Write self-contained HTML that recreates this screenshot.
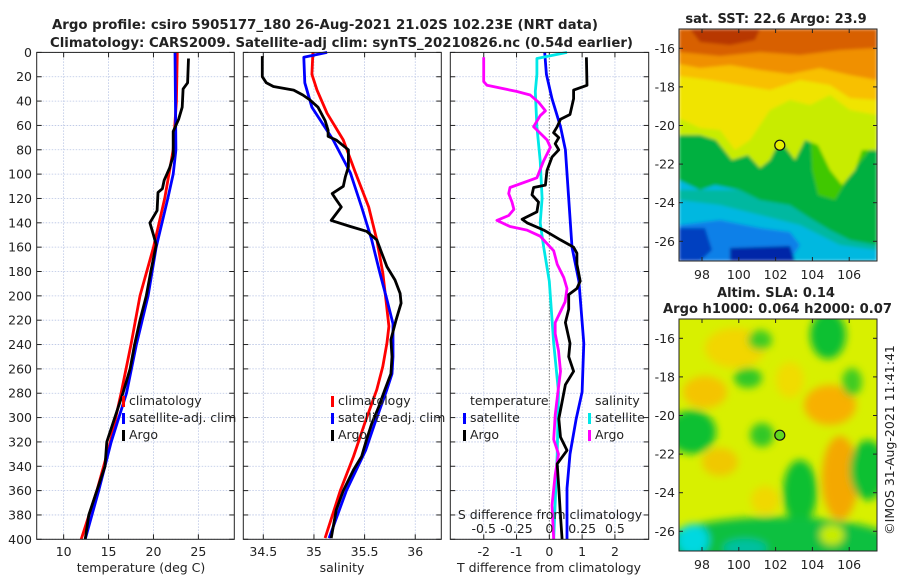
<!DOCTYPE html>
<html><head><meta charset="utf-8"><style>
html,body{margin:0;padding:0;background:#fff;}
svg{display:block;font-family:"DejaVu Sans","Liberation Sans",sans-serif;}
text{fill:#222;}
</style></head><body>
<svg id="fig" width="900" height="580" viewBox="0 0 900 580" xmlns="http://www.w3.org/2000/svg">
<defs>
<filter id="blur6" x="-10%" y="-10%" width="120%" height="120%"><feGaussianBlur stdDeviation="4"/></filter>
<filter id="blur2"><feGaussianBlur stdDeviation="1.5"/></filter>
<clipPath id="clipTop"><rect x="679" y="29" width="198" height="232"/></clipPath>
<clipPath id="clipBot"><rect x="679" y="319" width="198" height="232"/></clipPath>
</defs>
<text x="52" y="29" font-size="13" font-weight="bold" textLength="546" lengthAdjust="spacingAndGlyphs">Argo profile: csiro 5905177_180 26-Aug-2021 21.02S 102.23E (NRT data)</text>
<text x="50" y="47" font-size="13" font-weight="bold" textLength="583" lengthAdjust="spacingAndGlyphs">Climatology: CARS2009. Satellite-adj clim: synTS_20210826.nc (0.54d earlier)</text>
<g id="charts"></g>

<!-- SST map -->
<g>
<text x="776" y="23" font-size="13" font-weight="bold" text-anchor="middle">sat. SST: 22.6 Argo: 23.9</text>
<g clip-path="url(#clipTop)" filter="url(#blur2)">
<rect x="679" y="29" width="198" height="232" fill="#00b8e0"/>
<polygon fill="#00b8a0" points="679,190 877,190 877,250 840,245 800,225 760,215 720,205 679,200"/>
<polygon fill="#00b040" points="679,120 877,120 877,245 850,240 830,230 810,218 790,205 760,200 740,190 715,185 700,190 679,180"/>
<polygon fill="#40c800" points="810,130 860,125 870,150 850,175 835,200 818,195 812,170"/>
<polygon fill="#c8ec00" points="679,60 877,60 877,150 862,150 855,170 842,185 830,170 818,145 805,140 795,160 780,140 770,160 760,168 748,155 732,160 716,140 700,135 679,135"/>
<polygon fill="#f0e400" points="679,60 877,60 877,115 850,110 830,95 810,105 790,100 770,110 750,140 735,150 720,130 700,128 679,118"/>
<polygon fill="#f8c000" points="679,29 877,29 877,100 850,98 830,85 800,80 770,90 740,85 710,80 679,76"/>
<polygon fill="#f09000" points="679,29 877,29 877,80 850,75 820,68 790,74 760,70 730,65 700,68 679,64"/>
<polygon fill="#d86000" points="679,29 877,29 877,48 840,50 800,55 760,52 720,56 679,52"/>
<polygon fill="#b83800" points="690,29 760,29 755,40 730,45 700,42"/>
<polygon fill="#1080e8" points="679,225 720,220 760,228 790,232 800,245 790,261 679,261"/>
<polygon fill="#0040c0" points="679,228 705,228 712,250 700,261 679,261"/>
<polygon fill="#0028a8" points="730,248 790,246 795,261 730,261"/>
</g>
<rect x="679" y="29" width="198" height="232" fill="none" stroke="#222" stroke-width="1"/>
<circle cx="779.8" cy="145.2" r="5" fill="#e6f000" stroke="#111" stroke-width="1.2"/>
</g>

<!-- SLA map -->
<g>
<text x="776" y="297" font-size="13" font-weight="bold" text-anchor="middle">Altim. SLA: 0.14</text>
<text x="663" y="313" font-size="13" font-weight="bold" textLength="229" lengthAdjust="spacingAndGlyphs">Argo h1000: 0.064 h2000: 0.07</text>
<g clip-path="url(#clipBot)">
<rect x="679" y="319" width="198" height="232" fill="#d8f000"/>
<g filter="url(#blur6)">
<ellipse cx="735" cy="348" rx="30" ry="20" fill="#f2d600"/>
<ellipse cx="705" cy="392" rx="22" ry="16" fill="#f4c400"/>
<ellipse cx="830" cy="405" rx="26" ry="20" fill="#f8b000"/>
<ellipse cx="840" cy="478" rx="18" ry="42" fill="#f4a800"/>
<ellipse cx="720" cy="462" rx="18" ry="14" fill="#f0c800"/>
<ellipse cx="765" cy="500" rx="14" ry="14" fill="#f0d800"/>
<ellipse cx="790" cy="380" rx="14" ry="18" fill="#f0dc00"/>
<ellipse cx="828" cy="335" rx="18" ry="24" fill="#10c030"/>
<ellipse cx="748" cy="378" rx="14" ry="10" fill="#30c828"/>
<ellipse cx="760" cy="340" rx="12" ry="10" fill="#40cc20"/>
<ellipse cx="692" cy="432" rx="24" ry="22" fill="#10c030"/>
<ellipse cx="762" cy="435" rx="12" ry="12" fill="#30c828"/>
<ellipse cx="800" cy="492" rx="17" ry="32" fill="#10c030"/>
<ellipse cx="868" cy="470" rx="18" ry="30" fill="#10c030"/>
<ellipse cx="852" cy="382" rx="10" ry="14" fill="#40cc20"/>
<ellipse cx="778" cy="545" rx="120" ry="28" fill="#10c040"/>
<ellipse cx="693" cy="540" rx="16" ry="16" fill="#00d8e0"/>
<ellipse cx="745" cy="548" rx="22" ry="9" fill="#00c0a0"/>
<ellipse cx="832" cy="535" rx="12" ry="10" fill="#c8ec00"/>
</g>
</g>
<rect x="679" y="319" width="198" height="232" fill="none" stroke="#222" stroke-width="1"/>
<circle cx="779.8" cy="435.2" r="5" fill="#60d820" stroke="#111" stroke-width="1.2"/>
</g>
<text transform="translate(894,440) rotate(-90)" font-size="12.5" text-anchor="middle">©IMOS 31-Aug-2021 11:41:41</text>
<g id="mapaxes"></g>
</svg>
<script>
// ---- data ----
const depthTicks=[0,20,40,60,80,100,120,140,160,180,200,220,240,260,280,300,320,340,360,380,400];
// Panel 1: temperature
const tClimDepth=[0,40,80,120,160,200,240,280,320,360,400];
const tClimVal=[22.65,22.55,22.2,21.25,20.0,18.5,17.5,16.4,15.2,13.7,11.96];
const tSatDepth=[0,80,100,120,160,200,240,280,320,360,400];
const tSatVal=[22.4,22.5,22.2,21.6,20.3,19.4,18.1,17.0,15.3,13.9,12.4];
const tArgoDepth=[5,25,30,45,55,65,85,95,105,112,115,130,140,150,158,180,200,220,240,260,280,300,320,340,360,380,400];
const tArgoVal=[23.9,23.8,23.3,23.2,22.8,22.2,22.2,21.8,21.2,21.0,20.5,20.4,19.6,20.0,20.3,19.7,19.2,18.5,17.9,17.4,16.6,15.7,14.8,14.6,13.7,12.8,12.4];
const tTicks=[10,15,20,25];
// Panel 2: salinity
const sClimDepth=[0,18,31,50,72,99,127,154,181,203,225,239,258,277,305,332,360,399];
const sClimVal=[34.99,34.98,35.03,35.13,35.29,35.41,35.54,35.62,35.68,35.71,35.74,35.72,35.68,35.62,35.50,35.39,35.26,35.11];
const sSatDepth=[0,4,25,45,72,99,127,154,181,203,223,250,264,277,305,327,360,399];
const sSatVal=[35.13,34.90,34.91,34.98,35.19,35.36,35.47,35.57,35.65,35.72,35.78,35.78,35.77,35.72,35.60,35.51,35.32,35.15];
const sArgoDepth=[3,20,25,28,31,35,39,45,56,64,69,72,80,94,102,110,116,121,127,138,143,147,154,165,176,187,198,206,220,236,250,264,277,291,305,318,332,343,360,376,399];
const sArgoVal=[34.49,34.49,34.53,34.60,34.80,34.89,34.96,35.04,35.11,35.14,35.14,35.22,35.34,35.34,35.31,35.29,35.18,35.22,35.27,35.17,35.36,35.52,35.62,35.67,35.72,35.80,35.85,35.86,35.81,35.76,35.77,35.76,35.70,35.64,35.57,35.52,35.47,35.39,35.29,35.22,35.17];
const sTicks=[34.5,35,35.5,36];
// Panel 3: differences from climatology
const dTSatDepth=[0,18,38,61,80,120,160,188,239,279,301,330,358,400];
const dTSatVal=[-0.14,-0.09,0.08,0.34,0.49,0.59,0.69,0.90,1.05,1.00,0.82,0.63,0.54,0.54];
const dTArgoDepth=[4,27,31,38,51,55,61,66,70,75,80,86,97,109,111,117,123,131,137,140,146,154,160,165,174,188,194,199,211,222,239,250,262,273,287,301,316,327,338,358,381,400];
const dTArgoVal=[1.13,1.15,0.74,0.74,0.63,0.34,0.24,0.13,0.29,0.18,0.29,0.08,-0.07,-0.12,-0.48,-0.53,-0.33,-0.38,-0.83,-0.68,-0.17,0.34,0.74,0.84,0.84,0.94,0.84,0.59,0.59,0.49,0.63,0.59,0.74,0.49,0.39,0.29,0.34,0.54,0.24,0.29,0.34,0.39];
const dSSatDepth=[0,5,18,32,61,89,120,140,160,188,239,279,330,400];
const dSSatVal=[0.135,-0.095,-0.095,-0.107,-0.095,-0.07,-0.055,-0.07,-0.043,0.0,0.033,0.07,0.06,0.033];
const dSArgoDepth=[4,24,27,32,35,41,48,52,61,72,78,89,103,111,116,123,129,134,138,143,146,151,163,174,185,194,205,222,231,245,262,284,298,318,330,347,372,400];
const dSArgoVal=[-0.50,-0.50,-0.475,-0.25,-0.146,-0.082,-0.03,-0.07,-0.12,-0.017,0.008,-0.043,-0.095,-0.30,-0.31,-0.285,-0.27,-0.31,-0.40,-0.30,-0.17,-0.07,0.033,0.06,0.11,0.135,0.12,0.045,0.045,0.07,0.085,0.06,0.045,0.033,0.07,0.045,0.02,0.033];
const dTTicks=[-2,-1,0,1,2];
const dSTicks=[-0.5,-0.25,0,0.25,0.5];
const dSTickLabels=["-0.5","-0.25","0","0.25","0.5"];
// maps
const latTicks=[-16,-18,-20,-22,-24,-26];
const lonTicks=[98,100,102,104,106];

// ---- drawing ----
const NS="http://www.w3.org/2000/svg";
const charts=document.getElementById('charts');
function mk(tag,attrs,parent){const e=document.createElementNS(NS,tag);for(const k in attrs)e.setAttribute(k,attrs[k]);(parent||charts).appendChild(e);return e;}
const Y0=52.4,Y1=539.3;
function yD(d){return Y0+(d/400)*(Y1-Y0);}
const panels=[
 {x0:36.7,x1:234.3,min:7,max:29,name:'temperature'},
 {x0:243.3,x1:441.3,min:34.5-(263.3-243.3)/101.3,max:34.5+(441.3-263.3)/101.3,name:'salinity'},
 {x0:450.3,x1:648.7,min:-3.02,max:3.03,name:'difference'}
];
function xf(p){return v=>p.x0+(v-p.min)/(p.max-p.min)*(p.x1-p.x0);}
function drawLine(p,scale,ds,vs,color,name){
  const xs=scale||xf(p);
  let d='';
  for(let i=0;i<ds.length;i++){d+=(i?'L':'M')+xs(vs[i]).toFixed(1)+','+yD(ds[i]).toFixed(1);}
  const path=mk('path',{d:d,fill:'none',stroke:color,'stroke-width':'2.8','stroke-linejoin':'round'},p.g);
  
  
}
function panelBase(p,ticks,labels,idx){
  const g=mk('g',{});
  
  
  p.g=g;
  mk('rect',{x:p.x0,y:Y0,width:p.x1-p.x0,height:Y1-Y0,fill:'#fff'},g);
  const xs=xf(p);
  depthTicks.forEach(d=>{
    const l=mk('line',{x1:p.x0,x2:p.x1,y1:yD(d),y2:yD(d),stroke:'#b8c4e4','stroke-width':'0.8','stroke-dasharray':'1.5,1.5'},g);
    
    
    mk('line',{x1:p.x0,x2:p.x0+5,y1:yD(d),y2:yD(d),stroke:'#222','stroke-width':'1'},g);
    mk('line',{x1:p.x1,x2:p.x1-5,y1:yD(d),y2:yD(d),stroke:'#222','stroke-width':'1'},g);
  });
  ticks.forEach((t,i)=>{
    const x=xs(t);
    const zero=(idx===2&&t===0);
    const l=mk('line',{x1:x,x2:x,y1:Y0,y2:Y1,stroke:zero?'#333':'#b8c4e4','stroke-width':zero?'1':'0.8','stroke-dasharray':zero?'1,2':'1.5,1.5'},g);
    
    
    mk('line',{x1:x,x2:x,y1:Y1,y2:Y1-5,stroke:'#222'},g);
    mk('line',{x1:x,x2:x,y1:Y0,y2:Y0+5,stroke:'#222'},g);
    const t1=mk('text',{x:x,y:556,'font-size':'12.5','text-anchor':'middle'},g);
    t1.textContent=labels[i];
    
    
  });
  return g;
}
function frame(p){
  const r=mk('rect',{x:p.x0,y:Y0,width:p.x1-p.x0,height:Y1-Y0,fill:'none',stroke:'#222','stroke-width':'1'},p.g);
  
  
}
function legendEntry(g,x,y,color,label){
  mk('rect',{x:x,y:y-9,width:3,height:11,fill:color},g);
  const t=mk('text',{x:x+7,y:y,'font-size':'12.5'},g);
  t.textContent=label;
  
  
}
// depth tick labels
depthTicks.forEach(d=>{
  const t=mk('text',{x:32,y:yD(d)+4.5,'font-size':'12.5','text-anchor':'end'});
  t.textContent=String(d);
  
  
});
// Panel 1
const p1=panels[0];
panelBase(p1,tTicks,tTicks.map(String),0);
drawLine(p1,null,tClimDepth,tClimVal,'#ff0000','temperature-climatology-line');
drawLine(p1,null,tSatDepth,tSatVal,'#0000ff','temperature-satellite-line');
drawLine(p1,null,tArgoDepth,tArgoVal,'#000000','temperature-argo-line');
frame(p1);
legendEntry(p1.g,122,405,'#ff0000','climatology');
legendEntry(p1.g,122,422,'#0000ff','satellite-adj. clim');
legendEntry(p1.g,122,439,'#000000','Argo');
// Panel 2
const p2=panels[1];
panelBase(p2,sTicks,sTicks.map(String),1);
drawLine(p2,null,sClimDepth,sClimVal,'#ff0000','salinity-climatology-line');
drawLine(p2,null,sSatDepth,sSatVal,'#0000ff','salinity-satellite-line');
drawLine(p2,null,sArgoDepth,sArgoVal,'#000000','salinity-argo-line');
frame(p2);
legendEntry(p2.g,331,405,'#ff0000','climatology');
legendEntry(p2.g,331,422,'#0000ff','satellite-adj. clim');
legendEntry(p2.g,331,439,'#000000','Argo');
// Panel 3
const p3=panels[2];
panelBase(p3,dTTicks,dTTicks.map(String),2);
const xT=xf(p3);
const xS=v=>xT(v*4);
drawLine(p3,xT,dTSatDepth,dTSatVal,'#0000ff','t-diff-satellite-line');
drawLine(p3,xS,dSSatDepth,dSSatVal,'#00e8e8','s-diff-satellite-line');
drawLine(p3,xS,dSArgoDepth,dSArgoVal,'#ff00ff','s-diff-argo-line');
drawLine(p3,xT,dTArgoDepth,dTArgoVal,'#000000','t-diff-argo-line');
frame(p3);
{
 const t=mk('text',{x:470,y:405,'font-size':'12.5'},p3.g);t.textContent='temperature';
 
 
 const t2=mk('text',{x:595,y:405,'font-size':'12.5'},p3.g);t2.textContent='salinity';
 
 
 legendEntry(p3.g,463,422,'#0000ff','satellite');
 legendEntry(p3.g,463,439,'#000000','Argo');
 legendEntry(p3.g,588,422,'#00e8e8','satellite');
 legendEntry(p3.g,588,439,'#ff00ff','Argo');
 const s=mk('text',{x:550,y:519,'font-size':'12.5','text-anchor':'middle'},p3.g);s.textContent='S difference from climatology';
 
 
 dSTicks.forEach((v,i)=>{
   const tl=mk('text',{x:xS(v),y:533,'font-size':'12.5','text-anchor':'middle'},p3.g);tl.textContent=dSTickLabels[i];
   
   
 });
}
// x-axis titles
[[141,'temperature (deg C)','x-axis-title-temperature'],[342,'salinity','x-axis-title-salinity'],[549,'T difference from climatology','x-axis-title-t-difference']].forEach(a=>{
  const t=mk('text',{x:a[0],y:572,'font-size':'12.5','text-anchor':'middle'});
  t.textContent=a[1];
  
  
});
// map axes
const ma=document.getElementById('mapaxes');
function lonX(l){return 679+(l-96.75)*18.4;}
[[29,275],[319,565]].forEach((m,mi)=>{
  const top=m[0];
  latTicks.forEach(l=>{
    const y=top+(-15-l)*19.3;
    mk('line',{x1:679,x2:683,y1:y,y2:y,stroke:'#222'},ma);
    mk('line',{x1:877,x2:873,y1:y,y2:y,stroke:'#222'},ma);
    const t=mk('text',{x:675,y:y+4.5,'font-size':'12.5','text-anchor':'end'},ma);
    t.textContent=String(l);
    
    
  });
  lonTicks.forEach(l=>{
    const x=lonX(l);
    mk('line',{x1:x,x2:x,y1:top+232,y2:top+228,stroke:'#222'},ma);
    mk('line',{x1:x,x2:x,y1:top,y2:top+4,stroke:'#222'},ma);
    const t=mk('text',{x:x,y:m[1]+4,'font-size':'12.5','text-anchor':'middle'},ma);
    t.textContent=String(l);
    
    
  });
});
</script>
</body></html>
